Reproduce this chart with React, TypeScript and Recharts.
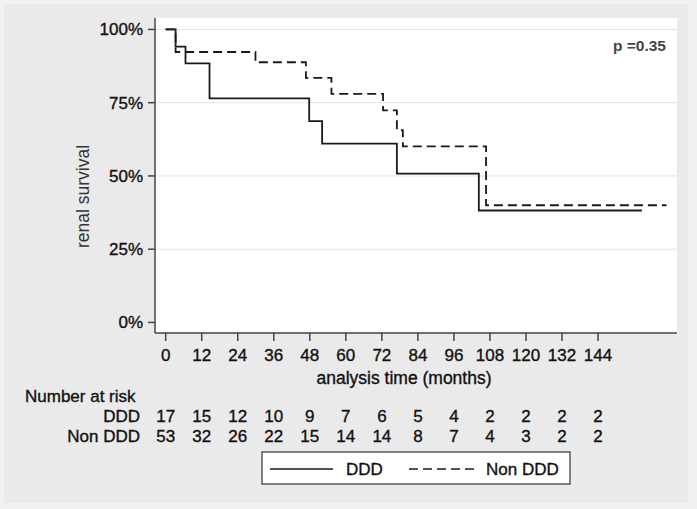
import { LineChart, Line, XAxis, YAxis, CartesianGrid, Customized } from 'recharts';

// months shown on the time axis + number at risk under each tick
const timeTicks = [0, 12, 24, 36, 48, 60, 72, 84, 96, 108, 120, 132, 144];
const dddAtRisk = [17, 15, 12, 10, 9, 7, 6, 5, 4, 2, 2, 2, 2];
const nonDddAtRisk = [53, 32, 26, 22, 15, 14, 14, 8, 7, 4, 3, 2, 2];

const survivalTicks = [0, 0.25, 0.5, 0.75, 1];
const groupNames = ['DDD', 'Non DDD'];

// Kaplan-Meier steps (time of drop, survival after drop), last point = end of follow-up
const dddTimes = [0, 3.3, 6.6, 14.6, 47.8, 52.1, 77, 104.3, 158.6];
const dddSurvival = [1, 0.941, 0.884, 0.765, 0.687, 0.61, 0.508, 0.382, 0.382];
const nonDddTimes = [0, 3.3, 29.9, 46.7, 55.2, 72.4, 77, 79, 106.7, 166.8];
const nonDddSurvival = [1, 0.923, 0.888, 0.835, 0.78, 0.724, 0.656, 0.601, 0.4, 0.4];

const pValue = 'p =0.35';

const toSteps = (times: number[], surv: number[]) => times.map((t, i) => ({ t, s: surv[i] }));
const dddData = toSteps(dddTimes, dddSurvival);
const nonDddData = toSteps(nonDddTimes, nonDddSurvival);

const FONT = '"Liberation Sans", Arial, Helvetica, sans-serif';
const INK = '#1a1a1a';
// stata's text renders a bit heavier than plain Liberation Sans
const heavy = { stroke: '#111', strokeWidth: 0.35 };

const TimeTick = (props: any) => {
  const { x, y, payload } = props;
  const i = timeTicks.indexOf(payload.value);
  const common = { x, textAnchor: 'middle' as const, dominantBaseline: 'central' as const, fontSize: 17, fill: '#111', fontFamily: FONT, ...heavy };
  return (
    <g>
      <text {...common} y={y + 14}>{payload.value}</text>
      <text {...common} y={y + 75}>{dddAtRisk[i]}</text>
      <text {...common} y={y + 95}>{nonDddAtRisk[i]}</text>
    </g>
  );
};

const Annotations = () => {
  const txt = { fontFamily: FONT, fontSize: 17, fill: '#111', dominantBaseline: 'central' as const, ...heavy };
  return (
    <g>
      <text {...txt} fontSize={17.5} fill="#333" stroke="none" textAnchor="middle" transform="translate(83,196.5) rotate(-90)">
        renal survival
      </text>
      <text {...txt} fontSize={17.5} textAnchor="middle" x={404} y={378}>analysis time (months)</text>
      <text {...txt} x={25} y={396}>Number at risk</text>
      <text {...txt} textAnchor="end" x={140} y={416}>{groupNames[0]}</text>
      <text {...txt} textAnchor="end" x={140} y={436}>{groupNames[1]}</text>
      <text {...txt} stroke="none" fontSize={15.5} fontWeight="bold" fill="#444" textAnchor="end" x={666} y={45}>{pValue}</text>

      <rect x={262} y={452} width={308} height={32} fill="#fff" stroke="#333" strokeWidth={1.2} />
      <line x1={270} x2={333} y1={469} y2={469} stroke={INK} strokeWidth={1.5} />
      <text {...txt} x={346} y={469}>{groupNames[0]}</text>
      <line x1={409} x2={475} y1={469} y2={469} stroke={INK} strokeWidth={1.5} strokeDasharray="9 5" />
      <text {...txt} x={486} y={469}>{groupNames[1]}</text>
    </g>
  );
};

export default function App() {
  return (
    <div style={{ position: 'absolute', left: 0, top: 0, width: 697, height: 509, background: '#f1f1f1' }}>
      <div style={{ position: 'absolute', left: 4, top: 4, width: 684, height: 499, background: '#eaeaea' }} />
      <div style={{ position: 'absolute', left: 0, top: 0 }}>
        <LineChart width={697} height={509} margin={{ top: 18, right: 20, bottom: 64, left: 0 }}>
          <CartesianGrid
            vertical={false}
            horizontalValues={[0.25, 0.5, 0.75, 1]}
            stroke="#e2e2e2"
            fill="#fff"
          />
          <XAxis
            type="number"
            dataKey="t"
            domain={[-3.56, 170.3]}
            allowDataOverflow
            ticks={timeTicks}
            interval={0}
            height={112}
            tickSize={8}
            tickMargin={0}
            tick={<TimeTick />}
            axisLine={{ stroke: '#444', strokeWidth: 1.5 }}
            tickLine={{ stroke: '#444', strokeWidth: 1.5 }}
          />
          <YAxis
            type="number"
            domain={[-0.036, 1.039]}
            allowDataOverflow
            ticks={survivalTicks}
            interval={0}
            width={155}
            tickSize={7}
            tickMargin={5}
            tickFormatter={(v: number) => `${Math.round(v * 100)}%`}
            tick={{ fontSize: 17, fill: '#111', fontFamily: FONT, ...heavy }}
            axisLine={{ stroke: '#444', strokeWidth: 1.5 }}
            tickLine={{ stroke: '#444', strokeWidth: 1.5 }}
          />
          <Line
            data={dddData}
            dataKey="s"
            type="stepAfter"
            stroke={INK}
            strokeWidth={1.8}
            dot={false}
            isAnimationActive={false}
          />
          <Line
            data={nonDddData}
            dataKey="s"
            type="stepAfter"
            stroke={INK}
            strokeWidth={1.8}
            strokeDasharray="9 5"
            dot={false}
            isAnimationActive={false}
          />
          <Customized component={<Annotations />} />
        </LineChart>
      </div>
    </div>
  );
}
